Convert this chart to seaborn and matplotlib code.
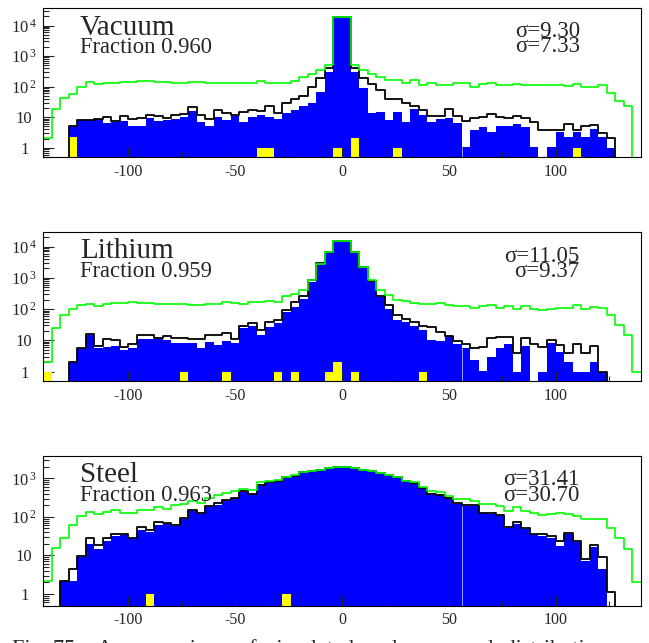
import numpy as np
import pandas as pd
import matplotlib
matplotlib.use("Agg")
import matplotlib.pyplot as plt
import seaborn as sns
from matplotlib.ticker import MultipleLocator, LogLocator, NullFormatter

# ---------------- data ----------------
bin_edges = list(range(-140, 141, 4))          # 70 bins of width 4
bin_centers = [(a + b) / 2 for a, b in zip(bin_edges[:-1], bin_edges[1:])]

vacuum_blue = [0, 0, 0, 5.3, 8.3, 8.3, 8.5, 6.5, 7, 7.5,
               5.3, 5.3, 9.4, 7.5, 8, 9, 10, 15.4, 7, 5.3,
               10.5, 8, 11, 7, 10, 11.5, 10, 9, 13.7, 17,
               23.6, 29, 69, 308, 18700, 18700, 300, 89, 13.7, 14.5,
               8, 15, 7, 18.5, 11.5, 7, 9, 9.6, 6.3, 1.1,
               3.9, 4.8, 3.3, 5.3, 5.3, 6, 4.8, 1.1, 0, 1.05,
               3.3, 2.3, 3.3, 2.3, 4.2, 2.3, 1, 0, 0, 0]
vacuum_black = [0, 0, 0, 5.3, 8.3, 8.3, 8.5, 10.5, 7.6, 11,
                8.5, 9.6, 12, 11, 9.6, 11.5, 12.5, 21, 11.5, 8.5,
                17.5, 13.7, 12, 15, 17.5, 16, 24, 14, 29, 39,
                48, 96, 195, 395, 18700, 18700, 395, 188, 122, 78,
                39, 39, 29, 22.5, 17.6, 11.2, 11.2, 18.5, 11.2, 7.4,
                9.4, 10.1, 12.7, 10.1, 9.2, 11.2, 9.4, 6.8, 3.9, 3.9,
                3.9, 6, 3.9, 5.1, 5.7, 3.1, 2.1, 0, 0, 0]
vacuum_green = [2.1, 18.6, 42, 57, 96, 146, 123, 135, 135, 146,
                146, 158, 158, 146, 146, 135, 135, 146, 146, 135,
                135, 135, 130, 135, 135, 150, 130, 130, 130, 158,
                200, 258, 350, 500, 18700, 18700, 500, 350, 258, 200,
                166, 166, 135, 166, 114, 130, 114, 114, 135, 135,
                96, 125, 130, 114, 114, 125, 114, 110, 114, 110,
                110, 106, 125, 98, 100, 110, 61, 33, 24, 0]
vacuum_yellow_x = [-126, -38, -34, -2, 6, 26, 110]
vacuum_yellow_n = [2.2, 1, 1, 1, 2.1, 1, 1]

lithium_blue = [0, 0, 0, 2.1, 5.5, 14.7, 5.8, 6.2, 6.5, 4.9,
                5.5, 11.4, 11.4, 10.7, 10.2, 8.3, 8.3, 8.3, 5.9, 9,
                7, 9.6, 8.3, 24, 28, 14.7, 27, 35, 82, 118,
                218, 740, 2870, 6700, 14700, 14700, 6400, 2230, 740, 245,
                104, 44, 39, 28, 21, 10, 9.6, 13.6, 7.9, 5.5,
                2.3, 1.06, 3, 5.9, 7.6, 1, 6.5, 0, 1, 8.3,
                4.3, 2.1, 1, 1, 2.1, 1, 0, 0, 0, 0]
lithium_black = [0, 0, 0, 2.1, 5.5, 16.5, 6.5, 11.4, 10.2, 6.2,
                 7.6, 14.7, 14.7, 12.3, 13.6, 12.3, 12.3, 11.4, 11.4, 14.7,
                 14.7, 16.6, 10.7, 28, 35, 21, 39, 44, 92, 170,
                 258, 840, 2900, 6800, 14800, 14800, 6500, 2300, 780, 258,
                 133, 64, 50, 39, 28, 26, 19, 13.6, 9.6, 7.6,
                 5.5, 6.2, 12.3, 13, 13, 4, 12.3, 7.6, 6.2, 10.2,
                 7, 4, 7.6, 4, 6.5, 1, 0, 0, 0, 0]
lithium_green = [2.1, 24, 67, 104, 133, 143, 123, 143, 158, 158,
                 170, 158, 158, 150, 150, 150, 150, 133, 133, 150,
                 150, 170, 158, 143, 170, 170, 182, 170, 258, 300,
                 400, 840, 2870, 6800, 14800, 14800, 6500, 2300, 840, 400,
                 277, 192, 178, 158, 150, 150, 158, 133, 123, 123,
                 112, 123, 133, 112, 123, 104, 123, 104, 96, 104,
                 112, 112, 133, 104, 118, 112, 64, 30, 14.7, 1]
lithium_yellow_x = [-138, -74, -54, -30, -22, -6, -2, 6, 38]
lithium_yellow_n = [1, 1, 1, 1, 1, 1, 2.1, 1, 1]

steel_blue = [0, 0, 2.2, 2.2, 8.9, 19.8, 14.6, 24, 32, 34,
              27.6, 46, 41, 61, 65, 59, 88, 144, 118, 176,
              202, 262, 302, 448, 390, 640, 780, 865, 1050, 1170,
              1420, 1540, 1660, 1800, 1910, 1910, 1800, 1660, 1540, 1340,
              1200, 1050, 865, 750, 560, 390, 365, 302, 215, 194,
              194, 125, 118, 111, 50, 65, 48, 36, 32, 29,
              18, 36, 22, 7.3, 17, 4.4, 0, 0, 0, 0]
steel_black = [0, 0, 2.2, 4.4, 9.8, 27.6, 18.6, 27.6, 36, 36,
               29, 56, 46, 72, 69, 61, 91, 153, 125, 194,
               228, 270, 310, 460, 400, 660, 800, 880, 1070, 1190,
               1440, 1560, 1680, 1820, 1930, 1930, 1820, 1680, 1560, 1360,
               1220, 1070, 880, 770, 580, 400, 380, 310, 225, 205,
               205, 130, 123, 115, 56, 72, 50, 37, 36, 32,
               24, 38, 24, 8, 18.6, 8.9, 1.1, 0, 0, 0]
steel_green = [2.2, 16, 29, 61, 107, 135, 118, 131, 153, 125,
               125, 153, 153, 176, 159, 202, 215, 262, 236, 318,
               365, 430, 475, 523, 500, 810, 865, 900, 1090, 1200,
               1460, 1580, 1700, 1840, 1950, 1950, 1840, 1700, 1560, 1360,
               1220, 1070, 880, 810, 600, 475, 450, 340, 300, 290,
               262, 215, 215, 194, 144, 176, 144, 125, 111, 118,
               125, 118, 103, 90, 88, 88, 50, 29, 14.6, 2.1]
steel_yellow_x = [-90, -26]
steel_yellow_n = [1, 1]

panel_names = ["Vacuum", "Lithium", "Steel"]
panel_fractions = ["Fraction 0.960", "Fraction 0.959", "Fraction 0.963"]
panel_sigmas = [("σ=9.30", "σ=7.33"), ("σ=11.05", "σ=9.37"), ("σ=31.41", "σ=30.70")]
x_tick_values = [-100, -50, 0, 50, 100]
x_tick_labels = ["-100", "-50", "0", "50", "100"]
caption = "Fig. 75:   A  comparison  of  simulated  and  measured  distributions"

# ---------------- style ----------------
sns.set_style("white")
plt.rcParams["font.family"] = ["Liberation Serif", "DejaVu Serif"]
plt.rcParams["mathtext.fontset"] = "custom"
plt.rcParams["mathtext.rm"] = "Liberation Serif"
plt.rcParams["axes.unicode_minus"] = False

W, H = 649, 643
fig = plt.figure(figsize=(W / 100, H / 100), dpi=100)
fig.patch.set_facecolor("white")

# axes boxes in pixels: (left, top, right, bottom)
boxes = [(43, 8, 641, 157), (43, 232, 641, 381), (43, 456, 641, 605.5)]
name_y = [35, 258.3, 481.7]
frac_y = [52.7, 276.7, 501]
sig_y = [(36.7, 51.7), (261.7, 276.7), (485, 501)]
sig_right = [580, 579, 579]

series = [
    (vacuum_blue, vacuum_black, vacuum_green, vacuum_yellow_x, vacuum_yellow_n),
    (lithium_blue, lithium_black, lithium_green, lithium_yellow_x, lithium_yellow_n),
    (steel_blue, steel_black, steel_green, steel_yellow_x, steel_yellow_n),
]


def fx(px):
    return px / W


def fy(py):
    return 1 - py / H


def ylabel(e):
    if e == 0:
        return "1"
    if e == 1:
        return "10"
    return r"$\mathregular{10^{\,%d}}$" % e


def hist(ax, xs, ws, **kw):
    df = pd.DataFrame({"x": xs, "w": ws})
    sns.histplot(data=df, x="x", weights="w", bins=bin_edges, element="step",
                 ax=ax, **kw)


for i, (blue, black, green, yx, yn) in enumerate(series):
    l, t, r, b = boxes[i]
    ax = fig.add_axes([fx(l), fy(b), fx(r) - fx(l), fy(t) - fy(b)])
    ax.set_facecolor("white")

    hist(ax, bin_centers, blue, fill=True, color="#0000ff", alpha=1, linewidth=0, zorder=2)
    hist(ax, yx, yn, fill=True, color="#ffff00", alpha=1, linewidth=0, zorder=3)
    hist(ax, bin_centers, black, fill=False, color="black", linewidth=1.3, zorder=4)
    hist(ax, bin_centers, green, fill=False, color="#00ff00", linewidth=1.2, zorder=5)

    ax.set_yscale("log")
    ymin, ymax = 0.5, 2 * max(blue)
    # faint seam between two bins seen in the reference (edge at 56)
    ax.vlines(bin_edges[49], ymin, min(blue[48], blue[49]), color="#9aa0ff",
              linewidth=0.7, zorder=2.5)
    ax.set_xlim(bin_edges[0], bin_edges[-1])
    ax.set_ylim(ymin, ymax)
    ax.set_xlabel("")
    ax.set_ylabel("")

    decades = [e for e in range(0, 6) if ymin <= 10 ** e <= ymax]
    ax.set_yticks([10 ** e for e in decades], [ylabel(e) for e in decades],
                  ha="center", fontsize=12)
    ax.yaxis.set_minor_locator(LogLocator(base=10, subs=np.arange(2, 10), numticks=20))
    ax.yaxis.set_minor_formatter(NullFormatter())
    ax.set_xticks(x_tick_values, x_tick_labels, fontsize=11.5)
    ax.xaxis.set_minor_locator(MultipleLocator(25))

    ax.tick_params(axis="y", which="major", direction="in", length=8, width=0.8,
                   pad=13.5, left=True, right=False)
    ax.tick_params(axis="y", which="minor", direction="in", length=4, width=0.8,
                   left=True, right=False)
    ax.tick_params(axis="x", which="major", direction="in", length=7, width=0.8,
                   pad=5, bottom=True, top=False)
    ax.tick_params(axis="x", which="minor", direction="in", length=3.5, width=0.8,
                   bottom=True, top=False)
    ax.set_axisbelow(False)
    for s in ax.spines.values():
        s.set_visible(True)
        s.set_color("black")
        s.set_linewidth(0.8)
        s.set_zorder(6)

    fig.text(fx(80), fy(name_y[i]), panel_names[i], fontsize=21, va="baseline", ha="left")
    fig.text(fx(80), fy(frac_y[i]), panel_fractions[i], fontsize=16.3, va="baseline", ha="left")
    fig.text(fx(sig_right[i]), fy(sig_y[i][0]), panel_sigmas[i][0], fontsize=16.5,
             va="baseline", ha="right")
    fig.text(fx(sig_right[i]), fy(sig_y[i][1]), panel_sigmas[i][1], fontsize=16.5,
             va="baseline", ha="right")

fig.text(fx(12), fy(639.5), caption, fontsize=16, va="top", ha="left")

fig.savefig("out.png", dpi=100, facecolor="white")
